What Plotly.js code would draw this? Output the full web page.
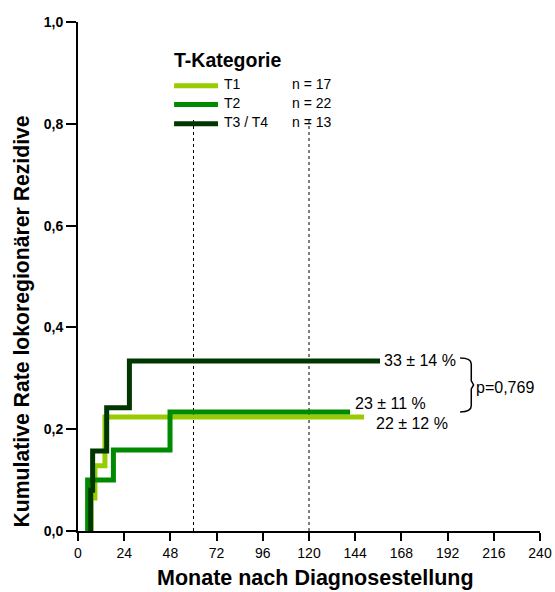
<!DOCTYPE html>
<html>
<head>
<meta charset="utf-8">
<script src="https://cdn.plot.ly/plotly-3.0.1.min.js"></script>
<style>
  html, body { margin: 0; padding: 0; background: #fff; }
  #chart { width: 555px; height: 592px; }
</style>
</head>
<body>
<div id="chart"></div>
<script>
// Kaplan-Meier style cumulative incidence of locoregional recurrence by T category.
// Each series starts at its first event (value 0), then steps up.
const groups = ["T1", "T2", "T3 / T4"];
const groupN = [17, 22, 13];
const groupSE = [12, 11, 14];          // standard error at end of follow-up, %

const monthsT1 = [6.8, 6.8, 8.8, 14, 148.6];
const rateT1   = [0, 0.065, 0.128, 0.224, 0.224];

const monthsT2 = [5, 5, 18.4, 47.8, 141.3];
const rateT2   = [0, 0.100, 0.159, 0.234, 0.234];

const monthsT34 = [6.6, 6.6, 7.6, 14.9, 26.7, 156.9];
const rateT34   = [0, 0.080, 0.157, 0.242, 0.334, 0.334];

const xTicks = [0, 24, 48, 72, 96, 120, 144, 168, 192, 216, 240];
const yTicks = [0, 0.2, 0.4, 0.6, 0.8, 1.0];
const refMonths = [60, 120];           // 5- and 10-year marks
const pValue = "p=0,769";
const xTitle = "Monate nach Diagnosestellung";
const yTitle = "Kumulative Rate lokoregionärer Rezidive";

const colors = ["#99cc00", "#008a00", "#003600"];
const FONT = "Liberation Sans, Arial, Helvetica, sans-serif";

const series = [
  { x: monthsT1, y: rateT1 },
  { x: monthsT2, y: rateT2 },
  { x: monthsT34, y: rateT34 }
];

const traces = series.map((s, i) => ({
  type: "scatter",
  mode: "lines",
  x: s.x,
  y: s.y,
  name: groups[i],
  line: { shape: "hv", color: colors[i], width: 5 },
  showlegend: false,
  hoverinfo: "skip"
}));

const shapes = [];
const annotations = [];

// dotted reference lines at 60 and 120 months
refMonths.forEach(m => {
  shapes.push({
    type: "line", xref: "x", yref: "y", layer: "below",
    x0: m, x1: m, y0: 0, y1: 0.81,
    line: { color: "#000", width: 1, dash: "dot" }
  });
});

// end-of-follow-up labels, drawn from each series' last value
const labelShift = [
  { dx: 10, dy: -7 },
  { dx: 3, dy: 8 },
  { dx: 2, dy: 0 }
];
series.forEach((s, i) => {
  const last = s.x.length - 1;
  const pct = Math.round(s.y[last] * 100);
  annotations.push({
    x: s.x[last], y: s.y[last], xref: "x", yref: "y",
    text: pct + " ± " + groupSE[i] + " %",
    showarrow: false, xanchor: "left", yanchor: "middle",
    xshift: labelShift[i].dx, yshift: labelShift[i].dy,
    font: { family: FONT, size: 16, color: "#000" }
  });
});

// bracket joining the curves for the log-rank comparison
const bTop = rateT34[rateT34.length - 1] + 0.006;
const bBot = rateT2[rateT2.length - 1];
const bMid = (bTop + bBot) / 2;
const bx0 = 198.5, bx1 = 204.3;
shapes.push({
  type: "path", xref: "x", yref: "y", layer: "above",
  path: `M ${bx0},${bTop} Q ${bx1},${bTop} ${bx1},${bTop - 0.012} ` +
        `L ${bx1},${bMid + 0.008} L ${bx1 + 1.2},${bMid} L ${bx1},${bMid - 0.008} ` +
        `L ${bx1},${bBot + 0.012} Q ${bx1},${bBot} ${bx0},${bBot}`,
  line: { color: "#000", width: 1.5 }
});
annotations.push({
  x: bx1 + 1.2, y: bMid - 0.006, xref: "x", yref: "y",
  text: pValue, showarrow: false, xanchor: "left", yanchor: "middle",
  font: { family: FONT, size: 16, color: "#000" }
});

// legend block
const legX0 = 0.208, legX1 = 0.303;
const legY = [0.875, 0.838, 0.800];
annotations.push({
  x: legX0 - 0.004, y: 0.926, xref: "paper", yref: "paper",
  text: "<b>T-Kategorie</b>", showarrow: false,
  xanchor: "left", yanchor: "middle",
  font: { family: FONT, size: 19.5, color: "#000" }
});
groups.forEach((g, i) => {
  shapes.push({
    type: "line", xref: "paper", yref: "paper", layer: "above",
    x0: legX0, x1: legX1, y0: legY[i], y1: legY[i],
    line: { color: colors[i], width: 5 }
  });
  annotations.push({
    x: 0.311, y: legY[i] + 0.003, xref: "paper", yref: "paper",
    text: g, showarrow: false, xanchor: "left", yanchor: "middle",
    font: { family: FONT, size: 14, color: "#000" }
  });
  annotations.push({
    x: 0.459, y: legY[i] + 0.003, xref: "paper", yref: "paper",
    text: "n = " + groupN[i], showarrow: false, xanchor: "left", yanchor: "middle",
    font: { family: FONT, size: 14, color: "#000" }
  });
});

// axis titles
annotations.push({
  x: 0.514, y: -61 / 509, xref: "paper", yref: "paper",
  text: "<b>" + xTitle + "</b>", showarrow: false,
  xanchor: "center", yanchor: "bottom",
  font: { family: FONT, size: 21.5, color: "#000" }
});
annotations.push({
  x: -0.1223, y: 0.4126, xref: "paper", yref: "paper",
  text: "<b>" + yTitle + "</b>", showarrow: false, textangle: -90,
  xanchor: "center", yanchor: "middle",
  font: { family: FONT, size: 21.2, color: "#000" }
});

const layout = {
  width: 555,
  height: 592,
  margin: { l: 78, r: 15, t: 22, b: 61 },
  paper_bgcolor: "#fff",
  plot_bgcolor: "#fff",
  separators: ",.",
  showlegend: false,
  font: { family: FONT, color: "#000" },
  xaxis: {
    range: [0, 240],
    tickvals: xTicks,
    ticktext: xTicks.map(String),
    ticks: "outside", ticklen: 8, tickwidth: 2, tickcolor: "#000",
    showline: true, linewidth: 2, linecolor: "#000",
    showgrid: false, zeroline: false, fixedrange: true,
    tickfont: { family: FONT, size: 14, color: "#000" }
  },
  yaxis: {
    range: [0, 1],
    tickvals: yTicks,
    tickformat: ".1f",
    ticks: "outside", ticklen: 10, tickwidth: 2, tickcolor: "#000",
    showline: true, linewidth: 2, linecolor: "#000",
    showgrid: false, zeroline: false, fixedrange: true,
    tickfont: { family: FONT, size: 14, color: "#000", weight: "bold" }
  },
  shapes: shapes,
  annotations: annotations
};

Plotly.newPlot("chart", traces, layout, { displayModeBar: false, staticPlot: true });
</script>
</body>
</html>
